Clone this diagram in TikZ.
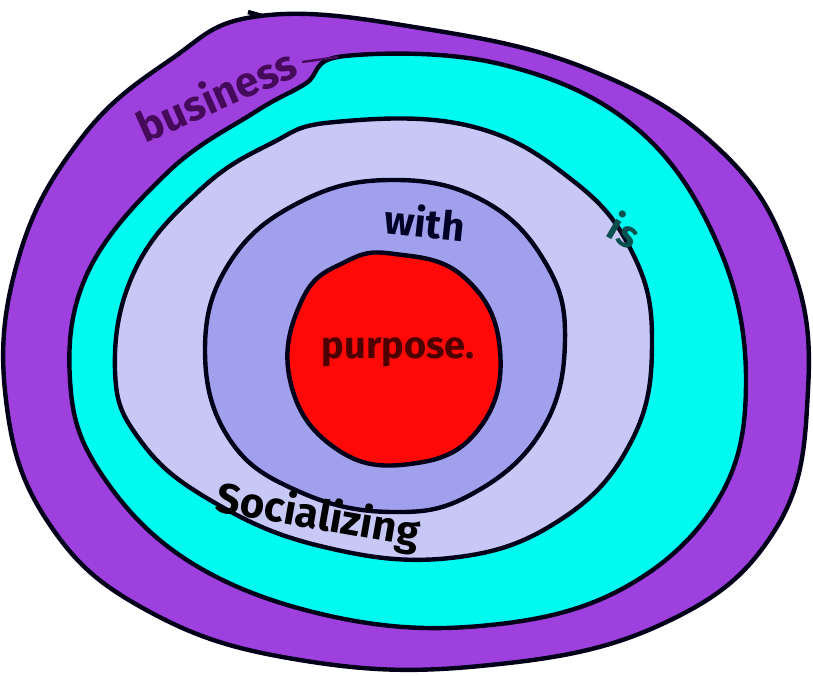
\documentclass[tikz,border=0pt]{standalone}
\usepackage{fontspec}
\setmainfont{Fira Sans}
\usetikzlibrary{positioning}
\definecolor{RingPurple}{RGB}{158,64,222}
\definecolor{RingCyan}{RGB}{0,250,240}
\definecolor{RingPale}{RGB}{200,200,246}
\definecolor{RingBlue}{RGB}{160,160,236}
\definecolor{CoreRed}{RGB}{255,8,8}
\definecolor{InkPurple}{RGB}{70,10,90}
\definecolor{InkTeal}{RGB}{10,80,80}
\begin{document}
\begin{tikzpicture}[x=1pt,y=-1pt,
ring/.style={draw=black!90!blue,line width=4.4pt,line join=round},
word/.style={inner sep=0pt,font=\fontsize{#1}{#1}\selectfont\bfseries}
]
\useasboundingbox[fill=white] (0,0) rectangle (813,675);
% outer ring
\draw[ring,fill=RingPurple] plot[smooth cycle,tension=0.7] coordinates {
(260,16) (420,28) (590,70) (720,150) (790,260) (808,390) (775,530) (660,625)
(480,666) (300,660) (150,612) (50,525) (6,400) (18,260) (80,140) (170,60)};
\draw[ring] (248,12) -- (262,16);
% cyan ring
\draw[ring,fill=RingCyan] plot[smooth cycle,tension=0.65] coordinates {
(345,56) (500,64) (635,127) (718,245) (746,380) (718,500) (620,590) (480,626)
(330,616) (190,562) (100,472) (70,380) (88,272) (168,172) (255,112) (305,84)};
% pale ring
\draw[ring,fill=RingPale] plot[smooth cycle,tension=0.7] coordinates {
(335,122) (470,126) (572,180) (632,252) (652,340) (632,440) (560,520) (450,558)
(320,546) (210,500) (140,440) (115,370) (135,270) (200,190) (270,144)};
% blue disc
\draw[ring,fill=RingBlue] plot[smooth cycle,tension=0.7] coordinates {
(390,180) (482,200) (545,262) (565,340) (542,430) (472,494) (392,512)
(300,492) (230,440) (205,350) (230,262) (300,202)};
% red core
\draw[ring,fill=CoreRed] plot[smooth cycle,tension=0.75] coordinates {
(395,254) (465,278) (500,350) (478,430) (410,464) (335,448) (290,380)
(302,300) (345,262)};
% labels
\node[word=42,text=InkPurple,rotate=24] (business) at (216,94) {business};
\draw[InkPurple,line width=2.4pt] (302,62) -- (338,57);
\node[word=38,text=InkTeal,rotate=-30] (is) at (625,230) {is};
\node[word=40,text=black!85!blue,rotate=-6] (with) at (425,222) {with};
\node[word=38,text=black!70!red] (purpose) at (398,352) {purpose.};
\node[word=42,text=black,rotate=-10] (socializing) at (318,517) {Socializing};
\end{tikzpicture}
\end{document}
